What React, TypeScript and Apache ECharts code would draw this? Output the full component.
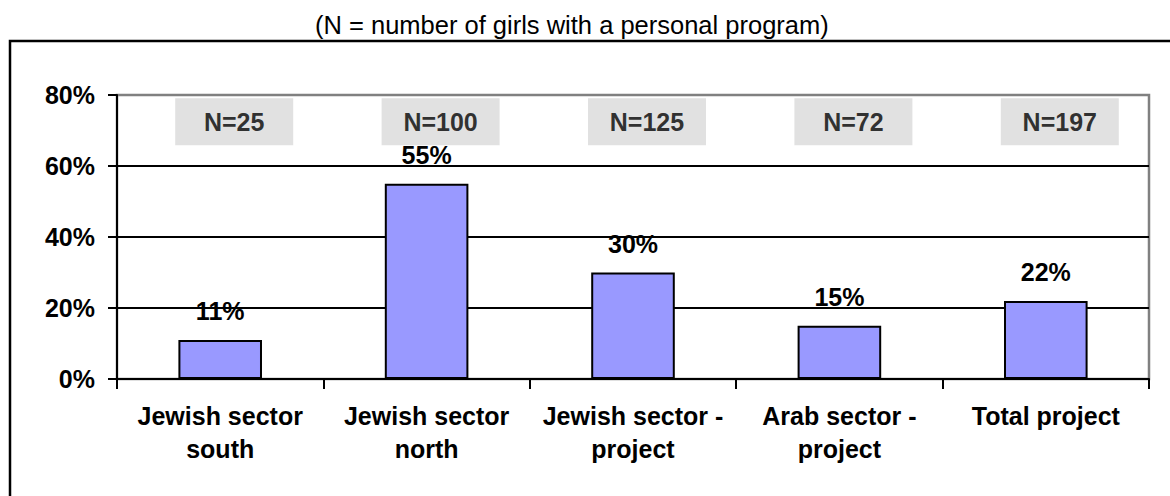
import React, { useEffect, useRef } from "react";
import * as echarts from "echarts";

const categories = [
  "Jewish sector\nsouth",
  "Jewish sector\nnorth",
  "Jewish sector -\nproject",
  "Arab sector -\nproject",
  "Total project",
];
const percentValues = [11, 55, 30, 15, 22];
const nValues = [25, 100, 125, 72, 197];
const nLabelLevel = 72.5;
const yTicks = [0, 20, 40, 60, 80];
const titleText = "(N = number of girls with a personal program)";

const FONT = "'Liberation Sans', Arial, sans-serif";

export default function App() {
  const ref = useRef<HTMLDivElement>(null);
  useEffect(() => {
    document.body.style.margin = "0";
    const chart = echarts.init(ref.current!, null, { renderer: "svg" });
    chart.setOption({
      animation: false,
      backgroundColor: "#ffffff",
      title: {
        text: titleText,
        left: 310,
        top: 7,
        textStyle: { fontFamily: FONT, fontSize: 25.5, fontWeight: "normal", color: "#000" },
      },
      graphic: [
        {
          type: "rect",
          shape: { x: 10, y: 41, width: 1300, height: 600 },
          style: { fill: "none", stroke: "#000", lineWidth: 2.5 },
          z: 0,
        },
      ],
      grid: {
        left: 117,
        right: 21,
        top: 95,
        bottom: 117,
        show: true,
        borderColor: "#808080",
        borderWidth: 2.5,
      },
      xAxis: {
        type: "category",
        data: categories,
        axisLine: { lineStyle: { color: "#000", width: 2 } },
        axisTick: { show: true, length: 10, inside: false, lineStyle: { color: "#000", width: 2 } },
        axisLabel: {
          margin: 20,
          fontFamily: FONT,
          fontSize: 25,
          fontWeight: "bold",
          color: "#000",
          lineHeight: 33,
          interval: 0,
        },
      },
      yAxis: {
        type: "value",
        min: 0,
        max: 80,
        interval: 20,
        axisLine: { show: true, lineStyle: { color: "#000", width: 2 } },
        axisTick: { show: true, length: 9, lineStyle: { color: "#000", width: 2 } },
        axisLabel: {
          margin: 22,
          fontFamily: FONT,
          fontSize: 25,
          fontWeight: "bold",
          color: "#000",
          formatter: (v: number) => (yTicks.includes(v) ? v + "%" : ""),
        },
        splitLine: {
          show: true,
          lineStyle: { color: ["#000", "#000", "#000", "#000", "#808080"], width: 2 },
        },
      },
      series: [
        {
          type: "bar",
          data: percentValues,
          barWidth: "40.5%",
          itemStyle: { color: "#9999FF", borderColor: "#000", borderWidth: 2 },
          label: {
            show: true,
            position: "top",
            distance: 16,
            formatter: (p: any) => p.value + "%",
            fontFamily: FONT,
            fontSize: 25,
            fontWeight: "bold",
            color: "#000",
          },
          z: 3,
        },
        {
          type: "scatter",
          data: nValues.map((n, i) => [i, nLabelLevel, n]),
          symbolSize: 0,
          label: {
            show: true,
            position: "inside",
            offset: [14, 0],
            formatter: (p: any) => "N=" + p.value[2],
            fontFamily: FONT,
            fontSize: 25,
            fontWeight: "bold",
            color: "#000",
            backgroundColor: "#d9d9d9",
            width: 118,
            height: 47,
            lineHeight: 47,
            align: "center",
            verticalAlign: "middle",
          },
          z: 4,
        },
      ],
    });
    return () => chart.dispose();
  }, []);
  return <div ref={ref} style={{ width: 1170, height: 496 }} />;
}
